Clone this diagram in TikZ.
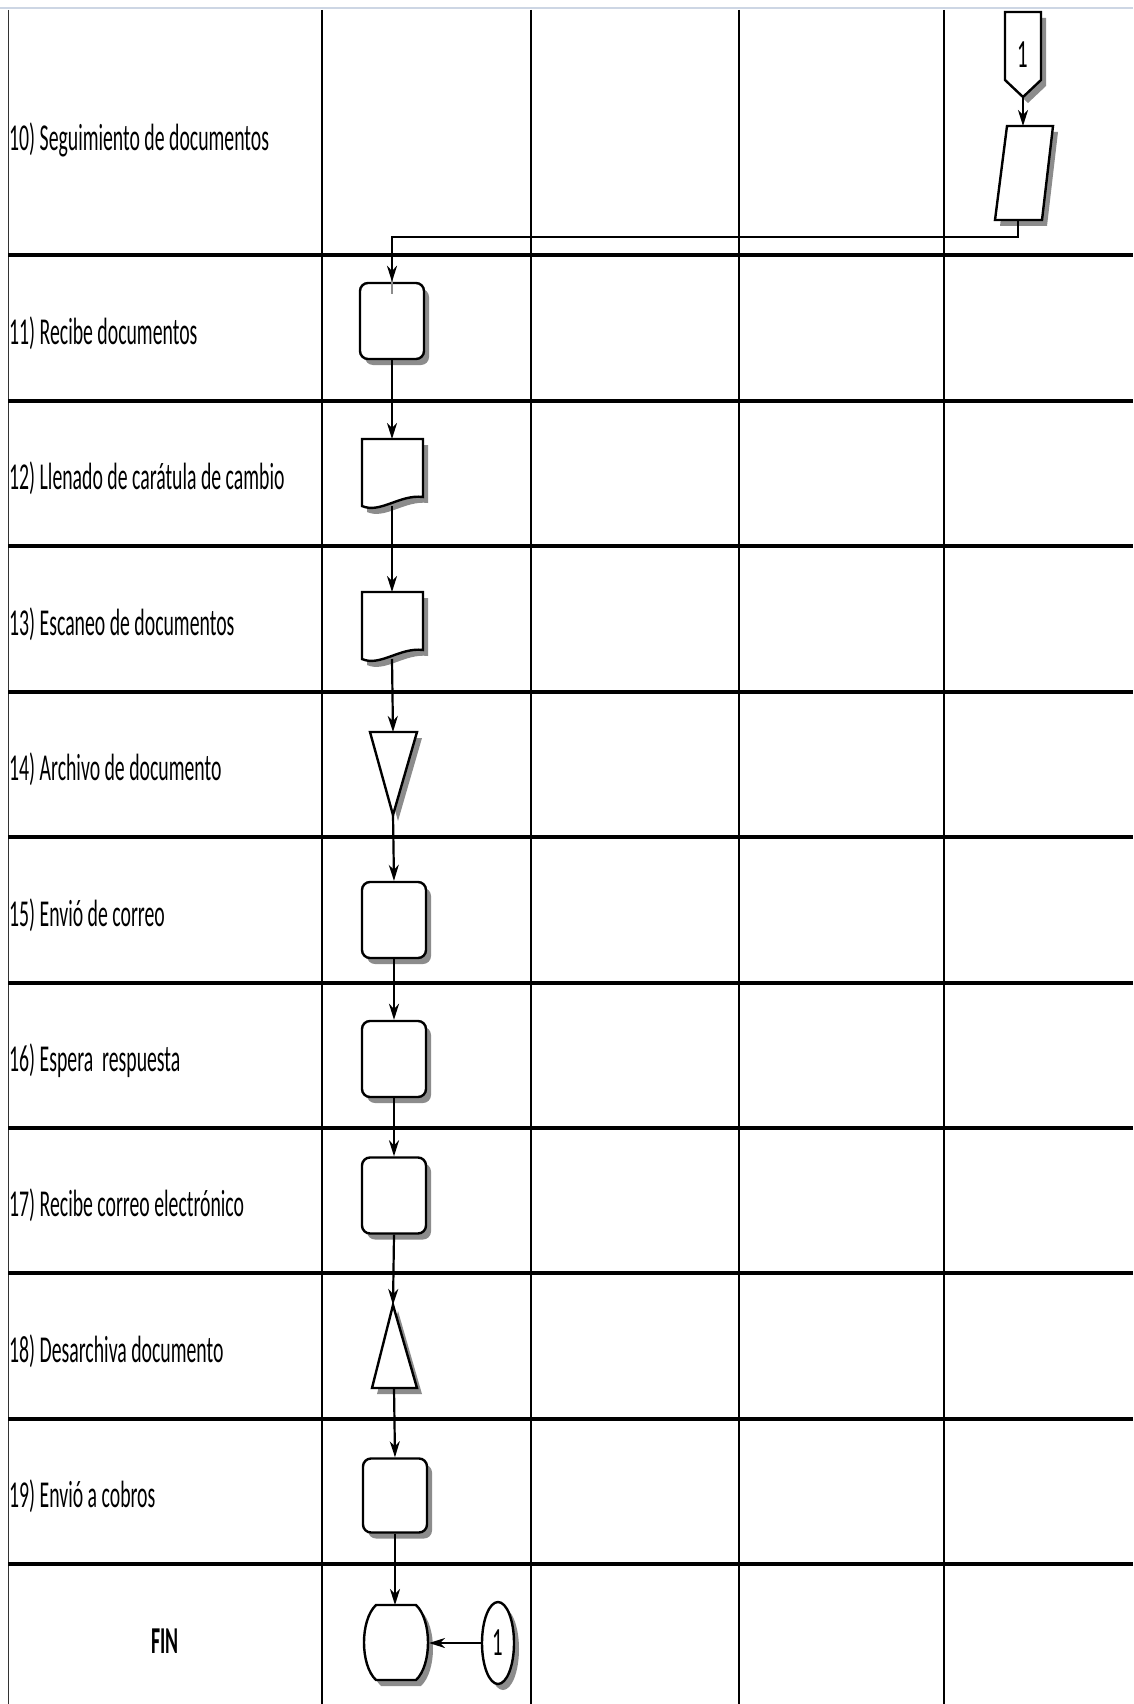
\documentclass[tikz,border=0pt]{standalone}
\usepackage{fontspec}
\newfontfamily\lbl[FakeStretch=0.52]{Carlito}
\usetikzlibrary{arrows.meta,shadows,shapes.geometric,backgrounds}
\begin{document}
\begin{tikzpicture}[x=1pt,y=-1pt,
  flow/.style={line width=2.2pt,-{Stealth[length=16pt,width=10pt,inset=5pt]}},
  topline/.style={draw={rgb,255:red,205;green,214;blue,228},line width=2pt},
  border/.style={draw=black!80,line width=1.5pt},
  colline/.style={draw=black,line width=2pt},
  rowline/.style={draw=black,line width=4.5pt},
  shp/.style={draw=black,line width=2.4pt,fill=white},
  shd/.style={fill=black!45,draw=none},
  procbox/.style={shp,rounded corners=8pt,minimum width=64pt,minimum height=76pt,inner sep=0pt,
    drop shadow={shadow xshift=5pt,shadow yshift=-6pt,fill=black!45,opacity=1}},
  conn/.style={shp,ellipse,minimum width=32pt,minimum height=82pt,inner sep=0pt,
    drop shadow={shadow xshift=5pt,shadow yshift=-6pt,fill=black!45,opacity=1},
    font=\lbl\fontsize{40}{44}\selectfont},
  lab/.style={anchor=base west,inner sep=0pt,font=\lbl\fontsize{38}{44}\selectfont},
]
\useasboundingbox (0,0) rectangle (1133,1704);

% ---------- grid ----------
\begin{scope}[on background layer]
\fill[white] (0,0) rectangle (1133,1704);
\draw[topline] (0,8) -- (1133,8);
\draw[border] (8.5,10) -- (8.5,1704);
\foreach \x in {322,531,739,944} \draw[colline] (\x,10) -- (\x,1704);
\foreach \y in {255,401,546,692,837,983,1128,1273,1419,1564} \draw[rowline] (8,\y) -- (1133,\y);
\end{scope}

% ---------- labels ----------
\node[lab] (l10) at (9,151) {10) Seguimiento de documentos};
\node[lab] (l11) at (9,344) {11) Recibe documentos};
\node[lab] (l12) at (9,489) {12) Llenado de carátula de cambio};
\node[lab] (l13) at (9,635) {13) Escaneo de documentos};
\node[lab] (l14) at (9,780) {14) Archivo de documento};
\node[lab] (l15) at (9,926) {15) Envió de correo};
\node[lab] (l16) at (9,1071) {16) Espera\ \ respuesta};
\node[lab] (l17) at (9,1216) {17) Recibe correo electrónico};
\node[lab] (l18) at (9,1362) {18) Desarchiva documento};
\node[lab] (l19) at (9,1507) {19) Envió a cobros};
\node[lab,anchor=base] (lfin) at (165,1653) {\bfseries FIN};

% ---------- off-page connector and parallelogram ----------
\fill[shd,shift={(5,6)}] (1005,12) -- (1041,12) -- (1041,80) -- (1023,97) -- (1005,80) -- cycle;
\draw[shp] (1005,12) -- (1041,12) -- (1041,80) -- (1023,97) -- (1005,80) -- cycle;
\node[inner sep=0pt,font=\lbl\fontsize{40}{44}\selectfont] (opc) at (1023,55) {1};
\coordinate (opcs) at (1023,97);

\fill[shd,shift={(5,6)}] (1007,126) -- (1053,126) -- (1042,220) -- (995,220) -- cycle;
\draw[shp] (1007,126) -- (1053,126) -- (1042,220) -- (995,220) -- cycle;
\coordinate (p10n) at (1023,126);
\coordinate (p10s) at (1018,220);
\coordinate (elbow1) at (1018,237);
\coordinate (elbow2) at (392,237);

% ---------- rounded process boxes ----------
\node[procbox] (b11) at (392,321) {};
\node[procbox] (b15) at (394,920) {};
\node[procbox] (b16) at (394,1059) {};
\node[procbox] (b17) at (394,1195.5) {};
\node[procbox,minimum height=74pt] (b19) at (395,1495.5) {};

% ---------- documents ----------
\fill[shd,shift={(5,6)}] (362,439) -- (423,439) -- (423,497) .. controls (400,494) and (380,514) .. (362,506) -- cycle;
\draw[shp] (362,439) -- (423,439) -- (423,497) .. controls (400,494) and (380,514) .. (362,506) -- cycle;
\coordinate (d12n) at (392,439);
\coordinate (d12s) at (392,506);

\fill[shd,shift={(5,6)}] (362,592) -- (423,592) -- (423,650) .. controls (400,647) and (380,667) .. (362,659) -- cycle;
\draw[shp] (362,592) -- (423,592) -- (423,650) .. controls (400,647) and (380,667) .. (362,659) -- cycle;
\coordinate (d13n) at (392,592);
\coordinate (d13s) at (392,659);

% ---------- triangles ----------
\fill[shd,shift={(5,6)}] (370,732) -- (417,732) -- (393,815) -- cycle;
\draw[shp] (370,732) -- (417,732) -- (393,815) -- cycle;
\coordinate (t14n) at (393,732);
\coordinate (t14s) at (393,815);

\fill[shd,shift={(5,6)}] (393,1305) -- (417,1388) -- (372,1388) -- cycle;
\draw[shp] (393,1305) -- (417,1388) -- (372,1388) -- cycle;
\coordinate (t18n) at (393,1305);
\coordinate (t18s) at (394,1388);

% ---------- terminator FIN ----------
\fill[shd,shift={(5,6)}] (376,1605) -- (416,1605) .. controls (432,1620) and (432,1665) .. (416,1680) -- (376,1680) .. controls (360,1665) and (360,1620) .. (376,1605) -- cycle;
\draw[shp] (376,1605) -- (416,1605) .. controls (432,1620) and (432,1665) .. (416,1680) -- (376,1680) .. controls (360,1665) and (360,1620) .. (376,1605) -- cycle;
\coordinate (finn) at (395,1605);
\coordinate (fine) at (429,1643);

\node[conn] (c2) at (498,1643) {1};

% ---------- connectors ----------
\draw[flow] (opcs) -- (p10n);
\draw[line width=2.2pt,black!45,shift={(2,3)}] (p10s) -- (elbow1) -- (elbow2) -- ([yshift=-12pt]b11.north);
\draw[flow] (p10s) -- (elbow1) -- (elbow2) -- (b11.north);
\draw[flow] (b11.south) -- (d12n);
\draw[flow] (d12s) -- (d13n);
\draw[flow] (d13s) -- (t14n);
\draw[flow] (t14s) -- (b15.north);
\draw[flow] (b15.south) -- (b16.north);
\draw[flow] (b16.south) -- (b17.north);
\draw[flow] (b17.south) -- (t18n);
\draw[flow] (t18s) -- (b19.north);
\draw[flow] (b19.south) -- (finn);
\draw[flow] (c2.west) -- (fine);
\end{tikzpicture}
\end{document}
